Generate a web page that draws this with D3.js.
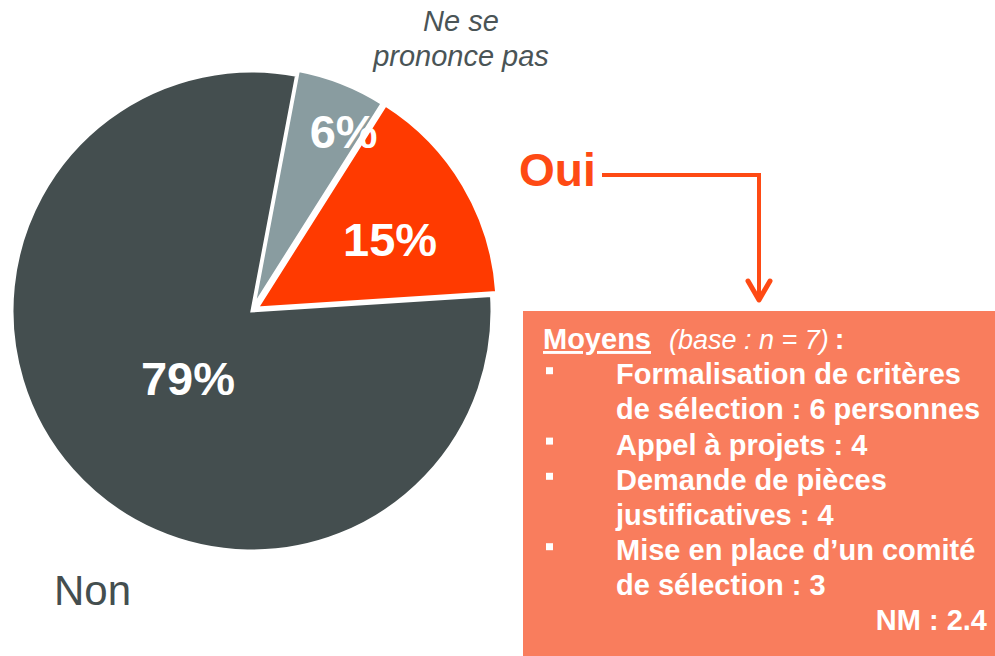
<!DOCTYPE html>
<html>
<head>
<meta charset="utf-8">
<script src="https://cdn.jsdelivr.net/npm/d3@7"></script>
<style>
  body { margin: 0; background: #fff; }
  svg { display: block; font-family: "Liberation Sans", Arial, sans-serif; }
</style>
</head>
<body>
<div id="chart"></div>
<script>
// Data
const categories = ["Ne se prononce pas", "Oui", "Non"];
const values = [6, 15, 79];
const sliceLabels = ["6%", "15%", "79%"];
const moyensItems = [
  ["Formalisation de critères", "de sélection : 6 personnes"],
  ["Appel à projets : 4"],
  ["Demande de pièces", "justificatives : 4"],
  ["Mise en place d\u2019un comité", "de sélection : 3"]
];
const moyensBase = "(base : n = 7)";
const nmLabel = "NM : 2.4";

const width = 995;
const height = 656;
const cx = 252, cy = 311, radius = 240;
const colors = ["#899ca0", "#ff3a00", "#444e4f"];
const explode = [5, 6, 0];
const labelShift = [5.5, 3, -5]; // degrees from mid angle
const labelDist = [202, 156, 93];

const svg = d3.select("#chart")
  .append("svg")
  .attr("width", width)
  .attr("height", height);

const deg = Math.PI / 180;
const pie = d3.pie()
  .sort(null)
  .value(d => d)
  .startAngle(10.7 * deg)
  .endAngle(10.7 * deg + 2 * Math.PI);

const arc = d3.arc().innerRadius(0).outerRadius(radius);
const arcs = pie(values);

const g = svg.append("g").attr("transform", `translate(${cx},${cy})`);

g.selectAll("path")
  .data(arcs)
  .enter()
  .append("path")
  .attr("d", arc)
  .attr("fill", (d, i) => colors[i])
  .attr("stroke", "#fff")
  .attr("stroke-width", 3)
  .attr("stroke-linejoin", "miter")
  .attr("transform", (d, i) => {
    const a = (d.startAngle + d.endAngle) / 2;
    return `translate(${Math.sin(a) * explode[i]},${-Math.cos(a) * explode[i]})`;
  });

// Percent labels
g.selectAll("text.pct")
  .data(arcs)
  .enter()
  .append("text")
  .attr("class", "pct")
  .attr("x", (d, i) => Math.sin((d.startAngle + d.endAngle) / 2 + labelShift[i] * deg) * labelDist[i])
  .attr("y", (d, i) => -Math.cos((d.startAngle + d.endAngle) / 2 + labelShift[i] * deg) * labelDist[i] + 17)
  .attr("text-anchor", "middle")
  .attr("fill", "#fff")
  .style("font-weight", "bold")
  .style("font-size", "47px")
  .text((d, i) => sliceLabels[i]);

// Ne se prononce pas
const nsp = svg.append("text")
  .attr("text-anchor", "middle")
  .attr("fill", "#4a5456")
  .style("font-style", "italic")
  .style("font-size", "29px");
nsp.append("tspan").attr("x", 461).attr("y", 31).text("Ne se");
nsp.append("tspan").attr("x", 461).attr("y", 66).text("prononce pas");

// Non
svg.append("text")
  .attr("x", 54)
  .attr("y", 605)
  .attr("fill", "#444e4f")
  .style("font-size", "42px")
  .text(categories[2]);

// Oui + arrow
const orange = "#fe4a14";
svg.append("text")
  .attr("x", 519)
  .attr("y", 186)
  .attr("fill", orange)
  .style("font-weight", "bold")
  .style("font-size", "46px")
  .text(categories[1]);

svg.append("path")
  .attr("d", "M602,175 H759 V300")
  .attr("fill", "none")
  .attr("stroke", orange)
  .attr("stroke-width", 4);
svg.append("path")
  .attr("d", "M748,281 L759,300 L770,281")
  .attr("fill", "none")
  .attr("stroke", orange)
  .attr("stroke-width", 5)
  .attr("stroke-linecap", "round")
  .attr("stroke-linejoin", "round");

// Moyens box
svg.append("rect")
  .attr("x", 523)
  .attr("y", 311)
  .attr("width", width - 523)
  .attr("height", 345)
  .attr("fill", "#f97d5d");

const boxText = svg.append("g").attr("fill", "#fff").style("font-size", "29px");

const head = boxText.append("text").attr("x", 543).attr("y", 349);
head.append("tspan").style("font-weight", "bold").style("text-decoration", "underline").text("Moyens");
head.append("tspan").attr("dx", 18).style("font-style", "italic").style("font-size", "27px").text(moyensBase);
head.append("tspan").attr("dx", 6).style("font-weight", "bold").text(":");

const lineH = 35.2;
let line = 1;
moyensItems.forEach(item => {
  boxText.append("rect")
    .attr("x", 546)
    .attr("y", 349 + line * lineH - 17)
    .attr("width", 7)
    .attr("height", 7)
    .attr("fill", "#fff");
  item.forEach(t => {
    boxText.append("text")
      .attr("x", 616)
      .attr("y", 349 + line * lineH)
      .style("font-weight", "bold")
      .text(t);
    line++;
  });
});

boxText.append("text")
  .attr("x", 987)
  .attr("y", 630)
  .attr("text-anchor", "end")
  .style("font-weight", "bold")
  .text(nmLabel);
</script>
</body>
</html>
